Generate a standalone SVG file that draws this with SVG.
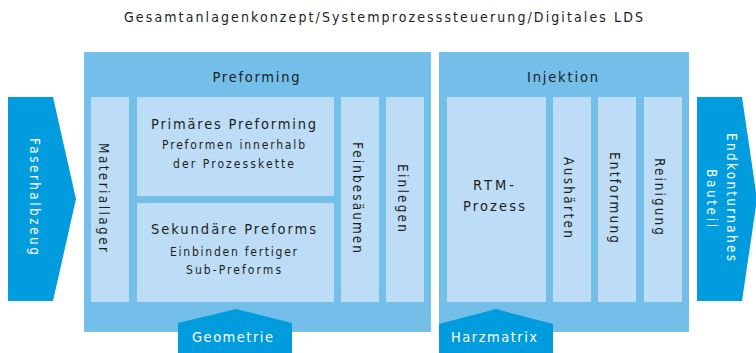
<svg xmlns="http://www.w3.org/2000/svg" width="756" height="353" viewBox="0 0 756 353">
  <style>
    .panel { fill: #73BFEA; }
    .cell { fill: #BCDDF5; }
    .flow { fill: #009CDD; }
    text { font-family: "DejaVu Sans Condensed", "DejaVu Sans", sans-serif; fill: #1d1d1b; }
    .title { font-size: 14px; text-anchor: middle; }
    .head { font-size: 14.5px; text-anchor: middle; }
    .sub { font-size: 12px; text-anchor: middle; }
    .vert { font-size: 13.5px; text-anchor: middle; }
    .light { fill: #ffffff; }
  </style>

  <!-- overall heading -->
  <text class="title" x="383.5" y="22" textLength="519" lengthAdjust="spacing">Gesamtanlagenkonzept/Systemprozesssteuerung/Digitales LDS</text>

  <!-- input: semi-finished fibre -->
  <g id="faserhalbzeug">
    <polygon class="flow" points="8,97 53,97 76,199 53,301 8,301"/>
    <text class="vert light" transform="translate(30,196.5) rotate(90)" textLength="117" lengthAdjust="spacing">Faserhalbzeug</text>
  </g>

  <!-- preforming stage -->
  <g id="preforming">
    <rect class="panel" x="84" y="52" width="347" height="280"/>
    <text class="head" x="256" y="82" textLength="87" lengthAdjust="spacing">Preforming</text>
  </g>
  <g id="materiallager">
    <rect class="cell" x="91" y="97" width="38" height="205"/>
    <text class="vert" transform="translate(98.5,197.5) rotate(90)" textLength="109" lengthAdjust="spacing">Materiallager</text>
  </g>
  <g id="primaeres-preforming">
    <rect class="cell" x="137" y="97" width="197" height="99"/>
    <text class="head" x="233.5" y="129" textLength="165" lengthAdjust="spacing">Primäres Preforming</text>
    <text class="sub" x="233.5" y="149" textLength="143" lengthAdjust="spacing">Preformen innerhalb</text>
    <text class="sub" x="233.5" y="168" textLength="121" lengthAdjust="spacing">der Prozesskette</text>
  </g>
  <g id="sekundaere-preforms">
    <rect class="cell" x="137" y="203" width="197" height="99"/>
    <text class="head" x="233.5" y="234" textLength="165" lengthAdjust="spacing">Sekundäre Preforms</text>
    <text class="sub" x="233.5" y="256" textLength="127" lengthAdjust="spacing">Einbinden fertiger</text>
    <text class="sub" x="233.5" y="274" textLength="95" lengthAdjust="spacing">Sub-Preforms</text>
  </g>
  <g id="feinbesaeumen">
    <rect class="cell" x="341" y="97" width="38" height="205"/>
    <text class="vert" transform="translate(352.5,197.5) rotate(90)" textLength="111" lengthAdjust="spacing">Feinbesäumen</text>
  </g>
  <g id="einlegen">
    <rect class="cell" x="386" y="97" width="38" height="205"/>
    <text class="vert" transform="translate(397.5,198) rotate(90)" textLength="68" lengthAdjust="spacing">Einlegen</text>
  </g>
  <g id="geometrie">
    <polygon class="flow" points="178,323 236,309 292,323 292,353 178,353"/>
    <text class="head light" x="232.5" y="342" textLength="81" lengthAdjust="spacing">Geometrie</text>
  </g>

  <!-- injection stage -->
  <g id="injektion">
    <rect class="panel" x="439" y="52" width="250" height="280"/>
    <text class="head" x="562.5" y="82" textLength="71" lengthAdjust="spacing">Injektion</text>
  </g>
  <g id="rtm-prozess">
    <rect class="cell" x="447" y="97" width="99" height="205"/>
    <text class="head" x="493.5" y="190" textLength="41" lengthAdjust="spacing">RTM-</text>
    <text class="head" x="494" y="211" textLength="62" lengthAdjust="spacing">Prozess</text>
  </g>
  <g id="aushaerten">
    <rect class="cell" x="553" y="97" width="38" height="205"/>
    <text class="vert" transform="translate(564,197.5) rotate(90)" textLength="81" lengthAdjust="spacing">Aushärten</text>
  </g>
  <g id="entformung">
    <rect class="cell" x="598" y="97" width="38" height="205"/>
    <text class="vert" transform="translate(610,197.5) rotate(90)" textLength="91" lengthAdjust="spacing">Entformung</text>
  </g>
  <g id="reinigung">
    <rect class="cell" x="644" y="97" width="38" height="205"/>
    <text class="vert" transform="translate(655,196.5) rotate(90)" textLength="77" lengthAdjust="spacing">Reinigung</text>
  </g>
  <g id="harzmatrix">
    <polygon class="flow" points="439,324 496,309 553,324 553,353 439,353"/>
    <text class="head light" x="494" y="342" textLength="86" lengthAdjust="spacing">Harzmatrix</text>
  </g>

  <!-- output: near-net-shape part -->
  <g id="endkonturnahes-bauteil">
    <polygon class="flow" points="697,97 742,97 757,199 742,301 697,301"/>
    <text class="vert light" transform="translate(727,197) rotate(90)" textLength="128" lengthAdjust="spacing">Endkonturnahes</text>
    <text class="vert light" transform="translate(707,198) rotate(90)" textLength="58" lengthAdjust="spacing">Bauteil</text>
  </g>
</svg>
